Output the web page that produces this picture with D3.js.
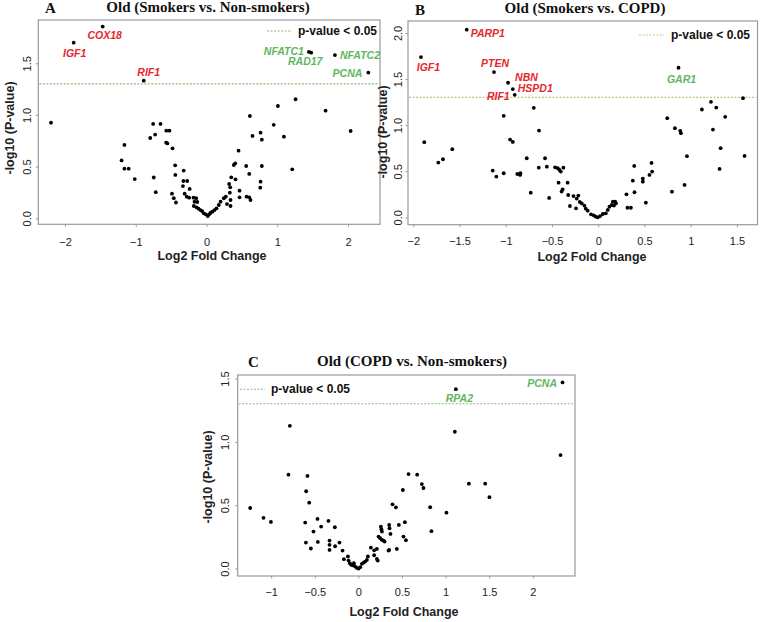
<!DOCTYPE html>
<html>
<head>
<meta charset="utf-8">
<script src="https://cdn.jsdelivr.net/npm/d3@7"></script>
<style>
html,body{margin:0;padding:0;background:#fff;}
svg{display:block;}
</style>
</head>
<body>
<svg id="chart" width="763" height="622"></svg>
<script>
// ---------------- DATA ----------------
const titles = ["Old (Smokers vs. Non-smokers)", "Old (Smokers vs. COPD)", "Old (COPD vs. Non-smokers)"];
const panelLetters = ["A", "B", "C"];
const legendText = "p-value < 0.05";
const pThreshold = 0.05;

const aXTicks = [-2, -1, 0, 1, 2];
const aYTicks = [0, 0.5, 1, 1.5];
const bXTicks = [-2, -1.5, -1, -0.5, 0, 0.5, 1, 1.5];
const bYTicks = [0, 0.5, 1, 1.5, 2];
const cXTicks = [-1, -0.5, 0, 0.5, 1, 1.5, 2];
const cYTicks = [0, 0.5, 1, 1.5];

// Panel A: log2 fold change / -log10 p
const aPoints = [
  [-2.197,0.925],[-1.16,0.71],[-1.20,0.56],[-1.16,0.48],[-1.10,0.48],[-1.014,0.38],
  [-0.754,0.913],[-0.65,0.913],[-0.726,0.81],[-0.795,0.777],
  [-0.568,0.848],[-0.523,0.848],[-0.57,0.733],[-0.553,0.725],[-0.48,0.677],
  [-0.745,0.395],[-0.717,0.253],
  [-0.443,0.513],[-0.44,0.42],[-0.488,0.238],[-0.462,0.195],[-0.432,0.153],
  [-0.322,0.462],[-0.327,0.361],[-0.273,0.361],[-0.333,0.312],[-0.238,0.284],
  [-0.309,0.238],[-0.28,0.209],[-0.245,0.2],[-0.184,0.2],[-0.146,0.194],[-0.17,0.16],[-0.13,0.158],
  [-0.179,0.119],[-0.141,0.106],[-0.113,0.093],[-0.085,0.08],[-0.061,0.07],[-0.038,0.048],[-0.01,0.039],
  [0.018,0.022],[0.038,0.039],[0.057,0.054],[0.085,0.064],[0.113,0.08],[0.141,0.097],[0.174,0.129],
  [0.198,0.161],[0.245,0.194],[0.273,0.209],[0.29,0.138],[0.34,0.119],[0.34,0.177],[0.33,0.248],
  [0.32,0.332],[0.35,0.397],[0.41,0.377],[0.335,0.3],
  [0.386,0.516],[0.406,0.532],[0.453,0.654],[0.467,0.267],[0.467,0.203],[0.561,0.506],[0.604,0.429],
  [0.566,0.209],[0.604,0.203],[0.622,0.177],
  [0.613,0.99],[0.65,0.797],[0.764,0.829],[0.782,0.761],[0.782,0.506],[0.764,0.354],[0.76,0.296],
  [0.95,0.905],[1.009,1.087],[1.094,0.79],[1.212,0.474],[1.259,1.152],[1.683,1.042],[2.037,0.845]
];
const aGenes = ["COX18","IGF1","RIF1","NFATC1","RAD17","NFATC2","PCNA"];
const aGeneX = [-1.467,-1.877,-0.887,1.447,1.48,1.815,2.287];
const aGeneY = [1.855,1.70,1.332,1.61,1.603,1.58,1.41];

// Panel B
const bPoints = [
  [-1.881,0.815],[-1.578,0.739],[-1.679,0.63],[-1.729,0.594],
  [-1.141,0.507],[-1.102,0.442],[-1.022,0.478],[-1.022,1.101],[-0.953,0.844],[-0.924,0.818],
  [-0.697,1.188],[-0.64,0.941],[-0.773,0.641],[-0.875,0.47],[-0.842,0.478],[-0.845,0.46],
  [-0.643,0.539],[-0.556,0.55],[-0.575,0.641],[-0.466,0.543],[-0.437,0.533],[-0.42,0.514],[-0.405,0.496],[-0.377,0.539],
  [-0.73,0.267],[-0.531,0.21],[-0.429,0.376],[-0.385,0.304],[-0.396,0.279],[-0.331,0.376],[-0.325,0.242],
  [-0.306,0.123],[-0.268,0.231],[-0.233,0.203],[-0.215,0.236],[-0.24,0.098],[-0.2,0.167],[-0.179,0.152],
  [-0.15,0.127],[-0.135,0.094],[-0.114,0.072],[-0.078,0.033],[-0.049,0.022],[-0.027,0.007],[-0.005,0.0],
  [0.02,0.014],[0.049,0.036],[0.082,0.043],[0.103,0.08],[0.121,0.116],[0.146,0.134],[0.17,0.127],
  [0.158,0.17],[0.183,0.17],[0.193,0.152],
  [0.316,0.104],[0.353,0.104],[0.305,0.25],[0.374,0.398],[0.392,0.272],[0.389,0.558],[0.482,0.42],
  [0.482,0.387],[0.515,0.159],[0.554,0.46],[0.576,0.59],[0.583,0.496],
  [0.746,1.076],[0.829,0.967],[0.886,0.938],[0.894,0.913],[0.797,0.278],[0.933,0.351],[0.959,0.663],
  [1.121,1.17],[1.219,1.253],[1.276,1.191],[1.373,1.09],[1.24,0.952],[1.323,0.75],[1.312,0.525],
  [1.565,1.293],[1.582,0.666]
];
const bGenes = ["PARP1","IGF1","PTEN","NBN","HSPD1","RIF1","GAR1"];
const bGeneX = [-1.422,-1.917,-1.127,-0.975,-0.924,-0.903,0.868];
const bGeneY = [2.036,1.739,1.576,1.46,1.391,1.329,1.623];

// Panel C
const cPoints = [
  [-1.241,0.478],[-1.088,0.4],[-1.003,0.368],[-0.786,1.127],[-0.802,0.741],[-0.584,0.731],[-0.599,0.61],
  [-0.564,0.52],[-0.61,0.363],[-0.602,0.205],[-0.545,0.158],[-0.469,0.392],[-0.515,0.292],[-0.427,0.331],
  [-0.465,0.21],[-0.343,0.376],[-0.331,0.221],[-0.331,0.187],[-0.331,0.147],[-0.27,0.326],[-0.267,0.176],
  [-0.217,0.205],[-0.182,0.142],[-0.166,0.074],[-0.12,0.095],[-0.113,0.063],[-0.098,0.042],[-0.083,0.029],
  [-0.064,0.026],[-0.052,0.042],[-0.037,0.016],[-0.017,0.005],[0.002,0.0],[0.021,0.011],[0.04,0.037],
  [0.059,0.047],[0.078,0.055],[0.097,0.068],[0.109,0.095],[0.143,0.165],[0.181,0.144],[0.181,0.105],
  [0.212,0.155],[0.212,0.076],[0.222,0.063],[0.231,0.252],[0.25,0.24],[0.27,0.226],[0.258,0.331],
  [0.264,0.31],[0.27,0.292],[0.289,0.221],[0.3,0.213],[0.353,0.344],[0.357,0.318],[0.368,0.273],
  [0.353,0.147],[0.391,0.507],[0.43,0.483],[0.345,0.142],[0.441,0.155],[0.464,0.344],[0.533,0.366],
  [0.517,0.252],[0.545,0.224],[0.51,0.62],[0.575,0.746],[0.674,0.741],[0.728,0.667],[0.746,0.636],
  [0.838,0.295],[0.823,0.484],[1.01,0.441],[1.267,0.67],[1.454,0.67],[1.503,0.563],[1.106,1.08],[2.318,0.896]
];
const cGenes = ["RPA2","PCNA"];
const cGeneX = [1.118,2.341];
const cGeneY = [1.416,1.469];

// ---------------- LAYOUT / STYLE ----------------
const RED = "#e5262c", GREEN = "#5fb65f", BOXC = "#9a9a9a";
const sans = "'Liberation Sans', Arial, sans-serif";
const serif = "'Liberation Serif', 'Times New Roman', serif";

const panels = [
  {
    points: aPoints, genes: aGenes, gx: aGeneX, gy: aGeneY, xTicks: aXTicks, yTicks: aYTicks,
    xDom: [-2.377, 2.452], yDom: [-0.058, 1.919], box: {l: 38.3, r: 380, t: 20, b: 224.3},
    thrColor: "#8dbb7d", title: {x: 208, y: 12}, letter: {x: 45, y: 13},
    yTickX: 27, xTickY: 242, xTitle: {x: 212, y: 260}, yTitle: {x: 10, y: 128},
    legend: {x1: 267, x2: 292, y: 31, tx: 298},
    labels: {
      COX18: [2, 12, "middle"], IGF1: [1, 14, "middle"], RIF1: [5, -5, "middle"],
      NFATC1: [-5, 3, "end"], RAD17: [-6, 12, "middle"], NFATC2: [5, 4, "start"], PCNA: [-6, 4, "end"]
    }
  },
  {
    points: bPoints, genes: bGenes, gx: bGeneX, gy: bGeneY, xTicks: bXTicks, yTicks: bYTicks,
    xDom: [-2.057, 1.722], yDom: [-0.08, 2.13], box: {l: 408, r: 757.5, t: 21, b: 224.7},
    thrColor: "#c9bf8c", title: {x: 585, y: 13}, letter: {x: 415, y: 15},
    yTickX: 398, xTickY: 241, xTitle: {x: 592, y: 261}, yTitle: {x: 383, y: 132},
    legend: {x1: 639, x2: 664, y: 35, tx: 671},
    labels: {
      PARP1: [4, 7, "start"], IGF1: [7.5, 14, "middle"], PTEN: [1, -5, "middle"],
      NBN: [7, -2, "start"], HSPD1: [5, 3, "start"], RIF1: [-5, 5, "end"], GAR1: [3, 15, "middle"]
    }
  },
  {
    points: cPoints, genes: cGenes, gx: cGeneX, gy: cGeneY, xTicks: cXTicks, yTicks: cYTicks,
    xDom: [-1.384, 2.484], yDom: [-0.059, 1.528], box: {l: 237.7, r: 575, t: 375, b: 576},
    thrColor: "#8dbb7d", title: {x: 412, y: 366}, letter: {x: 248, y: 367},
    yTickX: 225, xTickY: 592, xTitle: {x: 404, y: 616}, yTitle: {x: 207.7, y: 477},
    legend: {x1: 240, x2: 265, y: 389.3, tx: 271},
    labels: { RPA2: [3.5, 12.7, "middle"], PCNA: [-5.5, 5, "end"] }
  }
];
const geneColorUp = GREEN, geneColorDown = RED;

const svg = d3.select("#chart");

panels.forEach((p, i) => {
  const g = svg.append("g");
  const x = d3.scaleLinear().domain(p.xDom).range([p.box.l, p.box.r]);
  const y = d3.scaleLinear().domain(p.yDom).range([p.box.b, p.box.t]);

  // box
  g.append("rect").attr("x", p.box.l).attr("y", p.box.t)
    .attr("width", p.box.r - p.box.l).attr("height", p.box.b - p.box.t)
    .attr("fill", "none").attr("stroke", BOXC).attr("stroke-width", 1.2);

  // x axis ticks
  const xa = d3.axisBottom(x).tickValues(p.xTicks).tickSize(2.5).tickFormat(d3.format("~g"));
  const xg = g.append("g").attr("transform", `translate(0,${p.box.b})`).call(xa);
  xg.select(".domain").remove();
  xg.selectAll(".tick line").attr("stroke", BOXC);
  xg.selectAll(".tick text").attr("y", p.xTickY - p.box.b).attr("dy", "0.35em")
    .style("font-family", sans).style("font-size", "11px").attr("fill", "#222");

  // y axis ticks
  const ya = d3.axisLeft(y).tickValues(p.yTicks).tickSize(2.5).tickFormat(d3.format(".1f"));
  const yg = g.append("g").attr("transform", `translate(${p.box.l},0)`).call(ya);
  yg.select(".domain").remove();
  yg.selectAll(".tick line").attr("stroke", BOXC);
  yg.selectAll(".tick text")
    .attr("x", null).attr("dy", null)
    .attr("transform", `translate(${p.yTickX - p.box.l},0) rotate(-90)`)
    .attr("text-anchor", "middle").attr("dy", "0.35em")
    .style("font-family", sans).style("font-size", "11px").attr("fill", "#222");

  // threshold line
  const thr = -Math.log10(pThreshold);
  g.append("line").attr("x1", p.box.l + 1).attr("x2", p.box.r - 1)
    .attr("y1", y(thr)).attr("y2", y(thr))
    .attr("stroke", p.thrColor).attr("stroke-width", 1.1).attr("stroke-dasharray", "2,1.5");

  // points
  g.append("g").selectAll("circle").data(p.points).join("circle")
    .attr("cx", d => x(d[0])).attr("cy", d => y(d[1])).attr("r", 1.9).attr("fill", "#000");

  // labeled genes
  p.genes.forEach((name, k) => {
    const px = x(p.gx[k]), py = y(p.gy[k]);
    const col = p.gx[k] < 0 ? geneColorDown : geneColorUp;
    g.append("circle").attr("cx", px).attr("cy", py).attr("r", 1.9).attr("fill", "#000");
    const o = p.labels[name];
    g.append("text").attr("x", px + o[0]).attr("y", py + o[1]).attr("text-anchor", o[2])
      .style("font-family", sans).style("font-size", "10.5px").style("font-style", "italic")
      .style("font-weight", "bold").attr("fill", col).text(name);
  });

  // legend
  g.append("line").attr("x1", p.legend.x1).attr("x2", p.legend.x2)
    .attr("y1", p.legend.y).attr("y2", p.legend.y)
    .attr("stroke", p.thrColor).attr("stroke-width", 1.1).attr("stroke-dasharray", "2,1.5");
  g.append("text").attr("x", p.legend.tx).attr("y", p.legend.y + 4)
    .style("font-family", sans).style("font-size", "12px").style("font-weight", "bold")
    .attr("fill", "#111").text(legendText);

  // titles
  g.append("text").attr("x", p.title.x).attr("y", p.title.y).attr("text-anchor", "middle")
    .style("font-family", serif).style("font-size", "15px").style("font-weight", "bold")
    .attr("fill", "#111").text(titles[i]);
  g.append("text").attr("x", p.letter.x).attr("y", p.letter.y)
    .style("font-family", serif).style("font-size", "15px").style("font-weight", "bold")
    .attr("fill", "#111").text(panelLetters[i]);

  // axis titles
  g.append("text").attr("x", p.xTitle.x).attr("y", p.xTitle.y).attr("text-anchor", "middle")
    .style("font-family", sans).style("font-size", "12.5px").style("font-weight", "bold")
    .attr("fill", "#222").text("Log2 Fold Change");
  g.append("text").attr("transform", `translate(${p.yTitle.x + 4},${p.yTitle.y}) rotate(-90)`)
    .attr("text-anchor", "middle")
    .style("font-family", sans).style("font-size", "12.5px").style("font-weight", "bold")
    .attr("fill", "#222").text("-log10 (P-value)");
});
</script>
</body>
</html>
